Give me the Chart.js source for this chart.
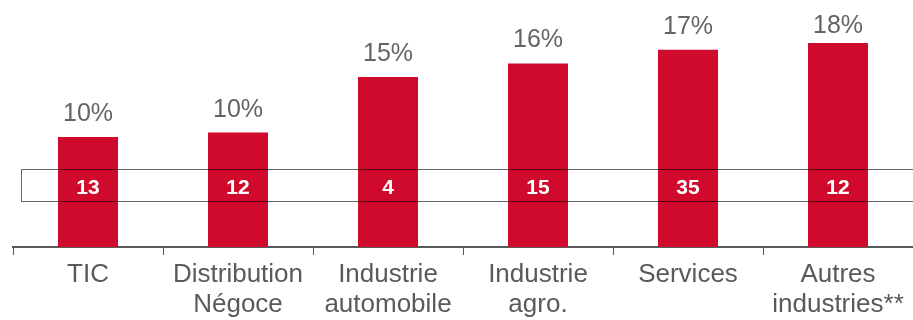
<!DOCTYPE html>
<html>
<head>
<meta charset="utf-8">
<script src="https://cdn.jsdelivr.net/npm/chart.js@4"></script>
<style>
  html,body{margin:0;padding:0;background:#fff}
  #wrap{width:913px;height:320px;overflow:hidden}
</style>
</head>
<body>
<div id="wrap"><canvas id="c" width="913" height="320"></canvas></div>
<script>
// ── data ────────────────────────────────────────────────
const categories = [["TIC"], ["Distribution","Négoce"], ["Industrie","automobile"],
                    ["Industrie","agro."], ["Services"], ["Autres","industries**"]];
const sharePct  = [9.7, 10.1, 15.0, 16.2, 17.4, 18.0];
const pctLabels = ["10%", "10%", "15%", "16%", "17%", "18%"];
const counts    = [13, 12, 4, 15, 35, 12];
const bandRange = [4.1, 6.85];   // y-range of the framed band holding the counts

const C = { bar:"#CF0A2C", ink:"#5a5a5a", pct:"#646464", axis:"#595959" };
const FONT = "'Liberation Sans', Arial, sans-serif";

const overlay = {
  id:"overlay",
  afterDatasetsDraw(chart){
    const ctx = chart.ctx, y = chart.scales.y, area = chart.chartArea;
    const bars = chart.getDatasetMeta(0).data;
    ctx.save();
    // % labels above the bars
    ctx.font = `25px ${FONT}`;
    ctx.fillStyle = C.pct;
    ctx.textAlign = "center";
    ctx.textBaseline = "alphabetic";
    bars.forEach((b,i)=>{
      const ty = Math.max(b.y - 16, 33);
      ctx.fillText(pctLabels[i], b.x, ty);
    });
    // framed band
    const top = Math.round(y.getPixelForValue(bandRange[1])) + 0.5;
    const bot = Math.round(y.getPixelForValue(bandRange[0])) + 0.5;
    ctx.strokeStyle = "rgba(0,0,0,0.6)";
    ctx.lineWidth = 1;
    ctx.strokeRect(area.left + 8.5, top, chart.width, bot - top);
    // counts inside the band
    ctx.font = `bold 21px ${FONT}`;
    ctx.fillStyle = "#fff";
    ctx.textBaseline = "middle";
    bars.forEach((b,i)=>{
      ctx.fillText(String(counts[i]), b.x, (top + bot)/2 + 3);
    });
    ctx.restore();
  }
};

new Chart(document.getElementById("c"), {
  type:"bar",
  data:{ labels:categories, datasets:[{ data:sharePct, backgroundColor:C.bar,
         categoryPercentage:1, barPercentage:0.4 }]},
  options:{
    responsive:false, animation:false, devicePixelRatio:1,
    layout:{ padding:{ left:13, right:0, top:0, bottom:0 } },
    plugins:{ legend:{ display:false }, tooltip:{ enabled:false } },
    scales:{
      x:{
        grid:{ display:true, drawOnChartArea:false, drawTicks:true, tickLength:8,
               color:C.axis, lineWidth:1, offset:true },
        border:{ display:true, color:C.axis, width:2 },
        ticks:{ color:C.ink, font:{ family:FONT, size:26, lineHeight:1.15 }, padding:5,
                maxRotation:0, autoSkip:false },
        afterFit(s){ s.height = 73; }
      },
      y:{ display:false, min:0, max:21.8 }
    }
  },
  plugins:[overlay]
});
</script>
</body>
</html>
